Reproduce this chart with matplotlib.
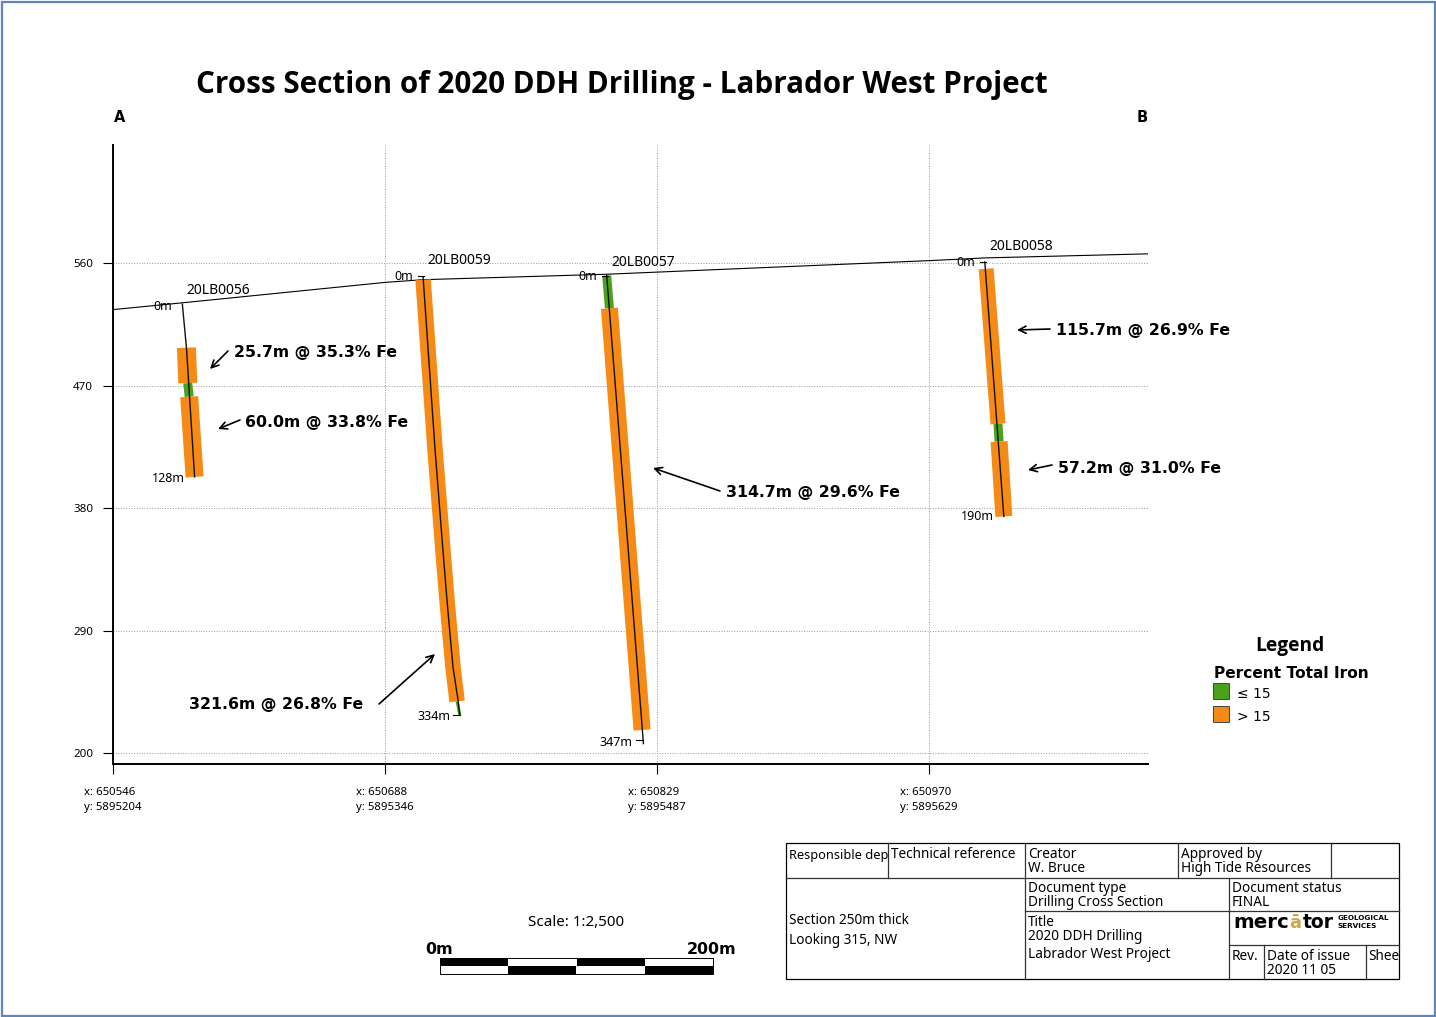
"""Cross section of the 2020 DDH drilling, Labrador West."""

import matplotlib

matplotlib.use("Agg")
import matplotlib.pyplot as plt
from matplotlib.patches import Rectangle

ORANGE = "#f58a17"
GREEN = "#4da01c"
SMALL_FONT = "Noto Sans"

# section distance (m) and elevation (m)
topo_dist = [0, 51, 200, 228, 363, 600, 641, 761]
topo_elev = [526, 531, 546, 548, 552, 562, 564, 567]

grid_x = [0, 200, 400, 600]
grid_y = [200, 290, 380, 470, 560]
x_labels = ["x: 650546\ny: 5895204", "x: 650688\ny: 5895346",
            "x: 650829\ny: 5895487", "x: 650970\ny: 5895629"]

# hole traces
hole_56_d = [51, 54, 60]
hole_56_z = [530, 498, 403]
hole_59_d = [228, 236.8, 242.6, 245.6, 250, 253.7, 255]
hole_59_z = [550, 423, 349, 312, 263, 239, 228]
hole_57_d = [363, 390]
hole_57_z = [551, 207]
hole_58_d = [641, 655]
hole_58_z = [561, 374]
holes = [(hole_56_d, hole_56_z), (hole_59_d, hole_59_z),
         (hole_57_d, hole_57_z), (hole_58_d, hole_58_z)]

# assay intervals: distances, elevations, grade class, width in px
intervals = [
    ([54, 55], [498, 472], ORANGE, 19),
    ([55, 56], [472, 462], GREEN, 9),
    ([56, 60], [462, 403], ORANGE, 18),
    ([228, 236.8, 242.6, 245.6, 250, 253], [548, 423, 349, 312, 263, 238], ORANGE, 15.5),
    ([253, 255], [238, 228], GREEN, 3),
    ([363, 365], [551, 527], GREEN, 9),
    ([365, 389], [527, 217], ORANGE, 17),
    ([642, 650.7], [556, 442], ORANGE, 15),
    ([650.7, 651.5], [442, 429], GREEN, 9),
    ([651.5, 655], [429, 374], ORANGE, 17),
]

collars = [("20LB0056", 186, 290), ("20LB0059", 427, 261),
           ("20LB0057", 611, 262), ("20LB0058", 989, 247)]
depths = [("0m", 172, 306), ("0m", 413, 277), ("0m", 597, 277), ("0m", 975, 263),
          ("128m", 185, 478), ("334m", 450, 716), ("347m", 633, 742), ("190m", 994, 517)]
depth_ticks = [(418, 424, 276), (602, 608, 276), (980, 986, 262),
               (453, 460, 715), (636, 643, 740)]

callouts = ["25.7m @ 35.3% Fe", "60.0m @ 33.8% Fe", "321.6m @ 26.8% Fe",
            "314.7m @ 29.6% Fe", "115.7m @ 26.9% Fe", "57.2m @ 31.0% Fe"]
callout_xy = [(234, 352), (245, 423), (189, 705), (726, 492), (1056, 331), (1058, 468)]
arrow_tail = [(228, 351), (240, 420), (379, 704), (720, 491), (1050, 329), (1052, 465)]
arrow_head = [(210, 369), (218, 429), (435, 654), (653, 468), (1017, 330), (1028, 470)]

fig = plt.figure(figsize=(14.36, 10.17), dpi=100, facecolor="white")

# main section axes
ax = fig.add_axes([113 / 1436, 1 - 764 / 1017, 1035 / 1436, 619 / 1017])
ax.set_xlim(0, 761)
ax.set_ylim(192, 647)
for side in ["top", "right"]:
    ax.spines[side].set_visible(False)
ax.spines["left"].set_linewidth(1.4)
ax.spines["bottom"].set_linewidth(1.4)
ax.set_xticks(grid_x)
ax.set_xticklabels([])
ax.set_yticks(grid_y)
ax.tick_params(axis="x", length=7, width=0.8)
ax.tick_params(axis="y", length=7.2, width=0.8, labelsize=8.3, pad=7)
for label in ax.get_yticklabels():
    label.set_fontfamily(SMALL_FONT)
ax.grid(True, color="#9a9a9a", linestyle=":", linewidth=0.7)
ax.set_axisbelow(True)

ax.plot(topo_dist, topo_elev, color="black", linewidth=0.8, zorder=3)
for dist, elev, colour, width_px in intervals:
    ax.plot(dist, elev, color=colour, linewidth=width_px * 0.72,
            solid_capstyle="butt", solid_joinstyle="round", zorder=4)
for dist, elev in holes:
    ax.plot(dist, elev, color="#111111", linewidth=1.0, zorder=5)

# overlay in pixel coordinates for the map furniture
top = fig.add_axes([0, 0, 1, 1], facecolor="none")
top.set_xlim(0, 1436)
top.set_ylim(1017, 0)
top.axis("off")

top.add_patch(Rectangle((1.5, 1.5), 1433, 1014, fill=False, edgecolor="#5d86b9", linewidth=1.6))
top.text(622, 85, "Cross Section of 2020 DDH Drilling - Labrador West Project",
         ha="center", va="center", fontsize=21.3, fontweight="bold", family="Open Sans")
top.text(120, 117, "A", ha="center", va="center", fontsize=10.5, fontweight="bold")
top.text(1142, 117, "B", ha="center", va="center", fontsize=10.5, fontweight="bold")

for name, x, y in collars:
    top.text(x, y, name, ha="left", va="center", fontsize=10, family=SMALL_FONT)
for text, x, y in depths:
    top.text(x, y, text, ha="right", va="center", fontsize=9, family=SMALL_FONT)
for x0, x1, y in depth_ticks:
    top.plot([x0, x1], [y, y], color="black", linewidth=0.8)

for text, (tx, ty), tail, head in zip(callouts, callout_xy, arrow_tail, arrow_head):
    top.text(tx, ty, text, ha="left", va="center", fontsize=11.35, fontweight="bold")
    top.annotate("", xy=head, xytext=tail,
                 arrowprops=dict(arrowstyle="->", color="black", linewidth=1.2,
                                 mutation_scale=13, shrinkA=0, shrinkB=0))

for px, label in zip([113, 385, 657, 929], x_labels):
    top.text(px - 29, 800, label, ha="left", va="center", fontsize=8.2,
             family=SMALL_FONT, linespacing=1.45)

# legend
top.text(1290, 646, "Legend", ha="center", va="center", fontsize=13.8, fontweight="bold", family="Open Sans")
top.text(1214, 673, "Percent Total Iron", ha="left", va="center", fontsize=11.05, fontweight="bold")
top.add_patch(Rectangle((1213, 683), 16, 16, facecolor=GREEN, edgecolor="#444444", linewidth=0.7))
top.add_patch(Rectangle((1213, 706), 16, 16, facecolor=ORANGE, edgecolor="#444444", linewidth=0.7))
top.text(1237, 694, "≤ 15", ha="left", va="center", fontsize=10, family="DejaVu Sans")
top.text(1237, 717, "> 15", ha="left", va="center", fontsize=10, family="DejaVu Sans")

# scale bar
top.text(576, 923, "Scale: 1:2,500", ha="center", va="center", fontsize=10.9, family=SMALL_FONT)
top.text(439, 949, "0m", ha="center", va="center", fontsize=11.4, fontweight="bold")
top.text(712, 949, "200m", ha="center", va="center", fontsize=11.4, fontweight="bold")
for i, x in enumerate([440, 508, 577, 645]):
    upper, lower = ("black", "white") if i % 2 == 0 else ("white", "black")
    top.add_patch(Rectangle((x, 958), 68, 8, facecolor=upper, edgecolor="none"))
    top.add_patch(Rectangle((x, 966), 68, 8, facecolor=lower, edgecolor="none"))
top.add_patch(Rectangle((440, 958), 273, 16, fill=False, edgecolor="black", linewidth=0.7))

# title block
top.add_patch(Rectangle((786, 843), 613, 136, fill=False, edgecolor="black", linewidth=0.9))
block_lines = [
    (786, 878, 1399, 878), (888, 843, 888, 878), (1025, 843, 1025, 979),
    (1178, 843, 1178, 878), (1331, 843, 1331, 878), (1229, 878, 1229, 979),
    (1025, 911, 1399, 911), (1229, 945, 1399, 945), (1264, 945, 1264, 979),
    (1366, 945, 1366, 979),
]
for x0, y0, x1, y1 in block_lines:
    top.plot([x0, x1], [y0, y1], color="#333333", linewidth=0.9)

block_text = [
    (891, 855, "Technical reference"),
    (1028, 855, "Creator"), (1028, 868, "W. Bruce"),
    (1181, 855, "Approved by"), (1181, 868, "High Tide Resources"),
    (789, 921, "Section 250m thick"), (789, 940, "Looking 315, NW"),
    (1028, 889, "Document type"), (1028, 902, "Drilling Cross Section"),
    (1232, 889, "Document status"), (1232, 902, "FINAL"),
    (1028, 922, "Title"), (1028, 937, "2020 DDH Drilling"),
    (1028, 955, "Labrador West Project"),
    (1232, 957, "Rev."), (1267, 957, "Date of issue"), (1267, 970, "2020 11 05"),
    (1368, 957, "Shee"),
]
for x, y, text in block_text:
    top.text(x, y, text, ha="left", va="center", fontsize=9.8, family=SMALL_FONT)
top.text(789, 855, "Responsible dep", ha="left", va="center", fontsize=9.2, family=SMALL_FONT)

top.text(1233, 923, "merc", ha="left", va="center", fontsize=14.2, fontweight="bold")
top.text(1289, 923, "ā", ha="left", va="center", fontsize=13, fontweight="bold", color="#c9a94f")
top.text(1303, 923, "tor", ha="left", va="center", fontsize=13.5, fontweight="bold")
top.text(1338, 918.5, "GEOLOGICAL", ha="left", va="center", fontsize=5.2, fontweight="bold")
top.text(1338, 926.5, "SERVICES", ha="left", va="center", fontsize=5.2, fontweight="bold")

fig.savefig("out.png", dpi=100)
